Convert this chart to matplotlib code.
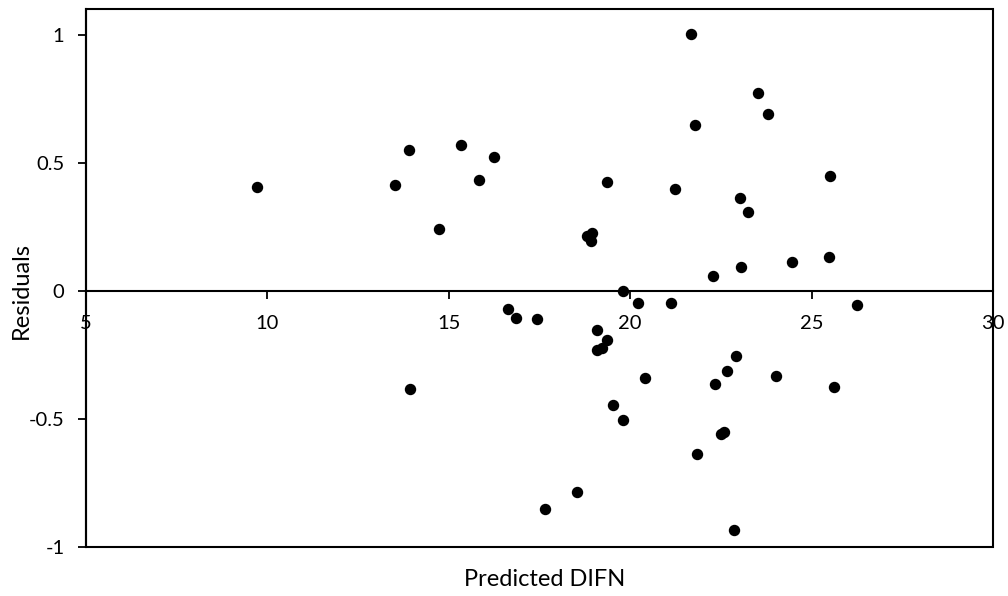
import numpy as np
import matplotlib
matplotlib.use("Agg")
import matplotlib.pyplot as plt
from matplotlib.patches import Rectangle

plt.rcParams["font.family"] = ["Lato", "DejaVu Sans"]

# predicted DIFN vs. residuals of the fit
predicted = [9.72, 13.51, 13.89, 14.73, 15.33, 15.84, 16.25, 13.93, 16.62, 16.84,
             17.43, 17.64, 18.53, 18.80, 18.95, 18.93, 19.08, 19.36, 19.08, 19.23,
             19.36, 19.53, 19.79, 19.80, 20.21, 20.40, 21.12, 21.23, 21.69, 21.80,
             21.84, 22.29, 22.34, 22.49, 22.59, 22.66, 22.87, 22.93, 23.03, 23.06,
             23.26, 23.51, 23.81, 24.02, 24.45, 25.49, 25.50, 25.63, 26.26]
residuals = [0.404, 0.414, 0.550, 0.242, 0.570, 0.433, 0.524, -0.383, -0.072, -0.108,
             -0.112, -0.851, -0.785, 0.214, 0.227, 0.196, -0.152, -0.191, -0.233, -0.225,
             0.425, -0.448, 0.001, -0.506, -0.046, -0.342, -0.046, 0.396, 1.003, 0.646,
             -0.638, 0.057, -0.363, -0.558, -0.550, -0.312, -0.935, -0.256, 0.364, 0.092,
             0.308, 0.773, 0.689, -0.333, 0.112, 0.134, 0.448, -0.374, -0.057]

x_ticks = [5, 10, 15, 20, 25, 30]
y_ticks = [-1, -0.5, 0, 0.5, 1]
y_labels = ["-1", "-0.5", "0", "0.5", "1"]

fig = plt.figure(figsize=(10.08, 5.96), dpi=100)
ax = fig.add_axes([0.0853, 0.0827, 0.8998, 0.9017])

ax.plot(predicted, residuals, "o", color="black", markersize=7.2, zorder=3)

ax.set_xlim(5, 30)
ax.set_ylim(-1, 1.1)
ax.set_xticks(x_ticks)
ax.set_xticklabels([str(t) for t in x_ticks])
ax.set_yticks(y_ticks)
ax.set_yticklabels(y_labels)

# horizontal axis runs through zero, plot area keeps its own frame
ax.spines["bottom"].set_position(("data", 0))
for side in ["left", "right", "top", "bottom"]:
    ax.spines[side].set_linewidth(1.5)
ax.spines["right"].set_visible(False)
ax.spines["top"].set_visible(False)
ax.add_patch(Rectangle((0, 0), 1, 1, transform=ax.transAxes, fill=False,
                       edgecolor="black", linewidth=1.5, clip_on=False, zorder=2.5))

ax.tick_params(axis="both", direction="out", length=5.5, width=1.3,
               labelsize=14.5, colors="black")
ax.tick_params(axis="y", pad=10)
ax.tick_params(axis="x", pad=12)

fig.text(0.021, 0.512, "Residuals", rotation=90, ha="center", va="center", fontsize=17)
fig.text(0.5405, 0.027, "Predicted DIFN", ha="center", va="center", fontsize=17)

fig.savefig("out.png", dpi=100)
